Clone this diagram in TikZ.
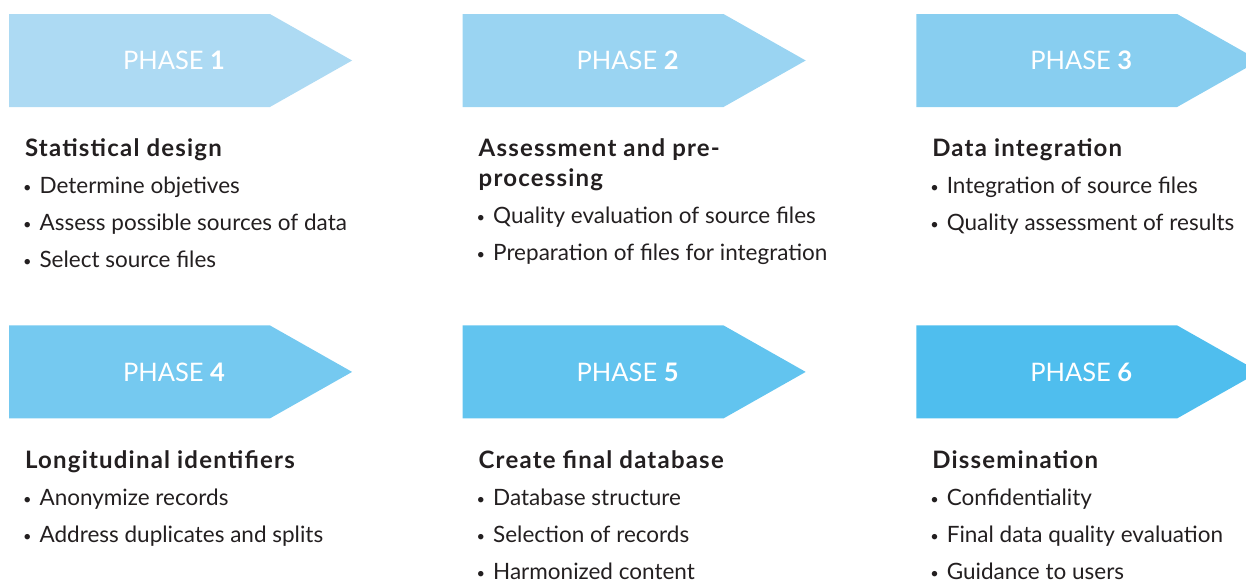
\documentclass[tikz,border=0pt]{standalone}
\usepackage{fontspec}
\setmainfont{Lato}
\newfontfamily\headfont{Lato}[LetterSpace=5]
\usetikzlibrary{positioning,shapes.symbols}

\definecolor{phaseone}{RGB}{173,218,243}
\definecolor{phasetwo}{RGB}{154,212,242}
\definecolor{phasethree}{RGB}{136,206,240}
\definecolor{phasefour}{RGB}{117,201,240}
\definecolor{phasefive}{RGB}{98,196,239}
\definecolor{phasesix}{RGB}{79,190,238}
\definecolor{ink}{RGB}{35,31,32}

\newcommand{\itm}{\hspace*{-2pt}\raisebox{1pt}{\scalebox{0.65}{\textbullet}}\hspace{8pt}}
\newcommand{\head}[1]{{\headfont\fontsize{24}{30}\selectfont\bfseries #1}}

\begin{document}
\begin{tikzpicture}[
    x=1pt, y=1pt,
    phase/.style={signal, signal to=east, signal pointer angle=59, minimum width=343pt, minimum height=93pt, inner sep=0pt},
    phaselabel/.style={xshift=34.5pt, text=white, inner sep=0pt, font=\fontsize{25.5}{25.5}\selectfont},
    stepnotes/.style={align=left, inner sep=0pt, text=ink, font=\fontsize{22.5}{37}\selectfont},
    ]
      \useasboundingbox (0,0) rectangle (1246,-579);

      %Phases
      \node      (P1)  [phase, fill=phaseone, label={[phaselabel]center:PHASE \textbf{1}}] at (139.5,-60.5) {};
      \node      (P2)  [phase, fill=phasetwo, label={[phaselabel]center:PHASE \textbf{2}}, right=110pt of P1] {};
      \node      (P3)  [phase, fill=phasethree, label={[phaselabel]center:PHASE \textbf{3}}, right=110pt of P2] {};
      \node      (P4)  [phase, fill=phasefour, label={[phaselabel]center:PHASE \textbf{4}}, below=218pt of P1] {};
      \node      (P5)  [phase, fill=phasefive, label={[phaselabel]center:PHASE \textbf{5}}, right=110pt of P4] {};
      \node      (P6)  [phase, fill=phasesix, label={[phaselabel]center:PHASE \textbf{6}}, right=110pt of P5] {};

      %Notes
      \node      (N1)  [stepnotes, below right=31.5pt and 16pt of P1.south west]
        {\head{Statistical design}\\
         \itm Determine objetives\\
         \itm Assess possible sources of data\\
         \itm Select source files};
      \node      (N2)  [stepnotes, below right=31.5pt and 16pt of P2.south west]
        {\head{Assessment and pre-}\\[-7pt]
         \head{processing}\\
         \itm Quality evaluation of source files\\
         \itm Preparation of files for integration};
      \node      (N3)  [stepnotes, below right=31.5pt and 16pt of P3.south west]
        {\head{Data integration}\\
         \itm Integration of source files\\
         \itm Quality assessment of results};
      \node      (N4)  [stepnotes, below right=31.5pt and 16pt of P4.south west]
        {\head{Longitudinal identifiers}\\
         \itm Anonymize records\\
         \itm Address duplicates and splits};
      \node      (N5)  [stepnotes, below right=31.5pt and 16pt of P5.south west]
        {\head{Create final database}\\
         \itm Database structure\\
         \itm Selection of records\\
         \itm Harmonized content};
      \node      (N6)  [stepnotes, below right=31.5pt and 16pt of P6.south west]
        {\head{Dissemination}\\
         \itm Confidentiality\\
         \itm Final data quality evaluation\\
         \itm Guidance to users};
\end{tikzpicture}
\end{document}
